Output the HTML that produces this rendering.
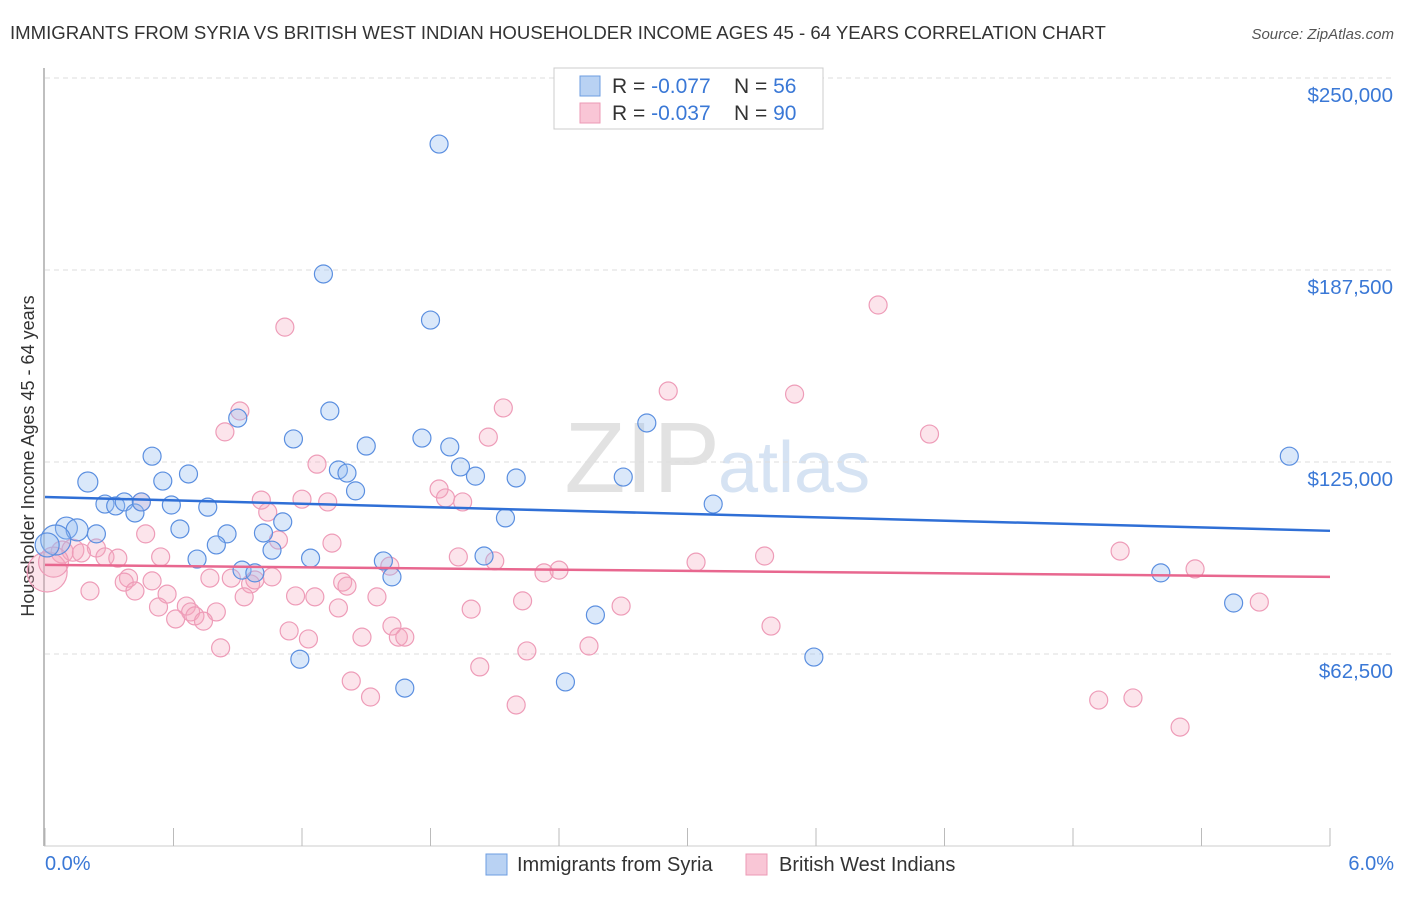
<!DOCTYPE html>
<html><head><meta charset="utf-8"><style>
body{margin:0;background:#fff;font-family:"Liberation Sans",sans-serif;}
svg text{font-family:"Liberation Sans",sans-serif;}
</style></head><body>
<svg id="c" width="1406" height="892" xmlns="http://www.w3.org/2000/svg">
<text x="10" y="39" font-size="18.6" fill="#333">IMMIGRANTS FROM SYRIA VS BRITISH WEST INDIAN HOUSEHOLDER INCOME AGES 45 - 64 YEARS CORRELATION CHART</text>
<text x="1394" y="39" font-size="15" fill="#555" font-style="italic" text-anchor="end">Source: ZipAtlas.com</text>
<text x="720" y="492" font-size="100" fill="#e2e2e2" text-anchor="end" font-family="Liberation Serif">ZIP</text>
<text x="718" y="492" font-size="72" fill="#d6e3f3">atlas</text>
<g id="grid"></g>
<line x1="44" y1="68" x2="44" y2="846" stroke="#aaa" stroke-width="1.5"/>
<line x1="44" y1="846" x2="1330" y2="846" stroke="#ccc"/>
<g id="ticks"></g>
<text transform="translate(34,456) rotate(-90)" font-size="18" fill="#333" text-anchor="middle">Householder Income Ages 45 - 64 years</text>
<text x="45" y="870" font-size="20" fill="#3a78d6">0.0%</text>
<text x="1394" y="870" font-size="20" fill="#3a78d6" text-anchor="end">6.0%</text>
<g id="pts"></g>
<g id="trend"></g>
<g>
<rect x="554" y="68" width="269" height="61" fill="#fff" stroke="#ccc"/>
<rect x="580" y="76" width="20" height="20" fill="#b9d2f3" stroke="#6d9de0"/>
<rect x="580" y="103" width="20" height="20" fill="#f9c6d6" stroke="#ec9ab5"/>
<text x="612" y="93" font-size="21" fill="#333">R = <tspan fill="#3a78d6">-0.077</tspan></text>
<text x="734" y="93" font-size="21" fill="#333">N = <tspan fill="#3a78d6">56</tspan></text>
<text x="612" y="120" font-size="21" fill="#333">R = <tspan fill="#3a78d6">-0.037</tspan></text>
<text x="734" y="120" font-size="21" fill="#333">N = <tspan fill="#3a78d6">90</tspan></text>
</g>
<g><rect x="486" y="854" width="21" height="21" fill="#b9d2f3" stroke="#6d9de0"/><text x="517" y="871" font-size="20" fill="#333">Immigrants from Syria</text></g>
<g><rect x="746" y="854" width="21" height="21" fill="#f9c6d6" stroke="#ec9ab5"/><text x="779" y="871" font-size="20" fill="#333">British West Indians</text></g>
</svg>
<script>
const yTicks=[62500,125000,187500,250000];
const yTickLabels=["$62,500","$125,000","$187,500","$250,000"];
const xTicks=[0,0.6,1.2,1.8,2.4,3.0,3.6,4.2,4.8,5.4,6.0];
const syriaX=[1.84,1.30,1.80,1.33,0.90,2.81,5.81,0.50,1.16,1.50,1.76,1.89,1.94,1.37,1.41,2.01,2.20,2.70,0.67,0.20,0.55,1.45,0.28,0.33,0.37,0.42,0.45,0.59,0.76,3.12,2.15,1.11,0.63,0.10,0.15,0.24,0.85,1.02,0.05,0.01,0.80,1.06,0.71,1.24,2.05,1.58,0.92,0.98,1.62,5.21,5.55,2.57,1.19,3.59,2.43,1.68];
const syriaY=[228.5,186.2,171.2,141.6,139.3,137.7,126.9,126.9,132.5,130.2,132.8,129.9,123.4,122.4,121.4,120.4,119.8,120.1,121.1,118.5,118.8,115.6,111.3,110.7,112.0,108.4,112.0,111.0,110.3,111.3,106.8,105.5,103.2,103.5,102.9,101.6,101.6,101.9,99.6,98.0,98.0,96.3,93.4,93.7,94.4,92.8,89.8,88.9,87.6,88.9,79.1,75.2,60.8,61.5,53.4,51.4];
const syriaR=[9,9,9,9,9,9,9,9,9,9,9,9,9,9,9,9,9,9,9,10,9,9,9,9,9,9,9,9,9,9,9,9,9,11,11,9,9,9,15,12,9,9,9,9,9,9,9,9,9,9,9,9,9,9,9,9];
const bwiX=[3.89,1.12,2.91,3.50,2.14,0.91,4.13,0.84,2.07,1.27,1.84,1.87,1.95,1.20,1.32,1.01,0.45,1.04,0.47,1.09,1.34,5.02,0.24,0.08,0.13,0.17,0.28,0.34,0.54,1.93,3.36,1.61,2.10,3.04,2.40,2.33,5.37,0.01,0.04,0.39,0.77,0.87,1.06,0.37,0.50,1.39,1.41,0.96,0.98,0.21,0.42,0.57,0.93,1.17,1.26,1.55,2.23,2.69,5.67,0.53,1.37,1.99,0.66,0.68,0.70,0.80,0.61,0.74,3.39,1.62,1.14,1.65,1.68,1.48,1.23,0.82,2.54,2.25,2.03,1.43,1.52,4.92,5.08,2.20,5.30];
const bwiY=[176.1,168.9,148.1,147.1,142.6,141.6,134.1,134.8,133.1,124.3,116.2,113.3,112.0,112.9,112.0,112.6,112.0,108.7,101.6,99.6,98.6,96.0,97.0,95.7,96.3,95.4,94.1,93.7,94.1,94.1,94.4,91.1,92.8,92.4,89.8,88.9,90.2,89.2,92.4,87.2,87.2,87.2,87.6,85.9,86.3,85.9,84.6,85.3,86.6,83.0,83.0,82.0,81.1,81.4,81.1,81.1,79.8,78.1,79.4,77.8,77.5,77.1,78.1,76.2,74.9,76.2,73.9,73.2,71.6,71.6,70.0,68.0,68.0,68.0,67.4,64.5,65.1,63.5,58.3,53.7,48.5,47.5,48.2,45.9,38.7];
const bwiR=bwiX.map((v,i)=>i==37?20:(i==38?15:(i==23||i==24?11:9)));
const trendSyria=[113.6,102.6];
const trendBwi=[91.5,87.6];
const X=v=>45+v/6*1285;
const Y=k=>846-k*3.072;
const NS="http://www.w3.org/2000/svg";
function mk(t,a,p){const e=document.createElementNS(NS,t);for(const k in a)e.setAttribute(k,a[k]);p.appendChild(e);return e;}
const grid=document.getElementById('grid');
yTicks.forEach((t,i)=>{
 const l=mk('line',{x1:45,x2:1393,y1:Y(t/1000),y2:Y(t/1000),stroke:'#ddd','stroke-dasharray':'5,4'},grid);
 
 
 const tx=mk('text',{x:1393,y:Y(t/1000)+24,'font-size':20.5,fill:'#3a78d6','text-anchor':'end'},grid);
 tx.textContent=yTickLabels[i];
 
 
});
const tk=document.getElementById('ticks');
xTicks.forEach(v=>{
 const l=mk('line',{x1:X(v),x2:X(v),y1:828,y2:846,stroke:'#bbb'},tk);
 
 
});
const pts=document.getElementById('pts');
bwiX.forEach((v,i)=>{
 const c=mk('circle',{cx:X(v),cy:Y(bwiY[i]),r:bwiR[i],fill:'rgba(245,165,190,0.3)',stroke:'#ee9cb8','stroke-width':1.2},pts);
 
 
});
syriaX.forEach((v,i)=>{
 const c=mk('circle',{cx:X(v),cy:Y(syriaY[i]),r:syriaR[i],fill:'rgba(150,190,240,0.35)',stroke:'#5b8fe0','stroke-width':1.2},pts);
 
 
});
const tr=document.getElementById('trend');
const t1=mk('line',{x1:X(0),x2:X(6),y1:Y(trendSyria[0]),y2:Y(trendSyria[1]),stroke:'#2f6fd6','stroke-width':2.5},tr);


const t2=mk('line',{x1:X(0),x2:X(6),y1:Y(trendBwi[0]),y2:Y(trendBwi[1]),stroke:'#e8678f','stroke-width':2.5},tr);


</script>
</body></html>
